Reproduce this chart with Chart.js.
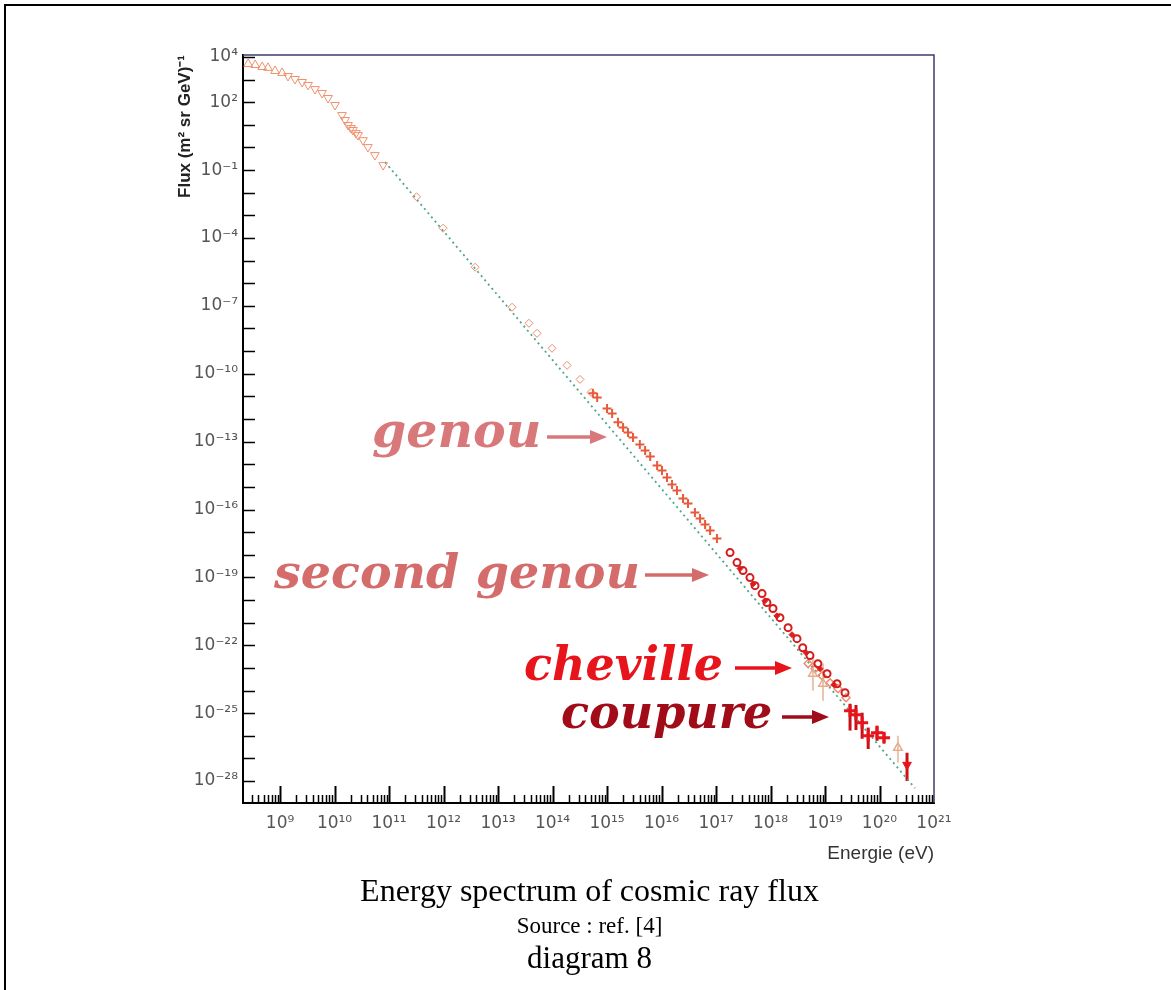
<!DOCTYPE html>
<html>
<head>
<meta charset="utf-8">
<script src="https://cdn.jsdelivr.net/npm/chart.js@4.4.1/dist/chart.umd.min.js"></script>
<style>
  body { margin: 0; background: #fff; width: 1171px; height: 990px; position: relative; overflow: hidden; }
  #frame { position: absolute; left: 4px; top: 4px; width: 1180px; height: 1000px; border-top: 2px solid #000; border-left: 2px solid #000; }
  #spectrum { position: absolute; left: 0; top: 0; }
  .note { position: absolute; font-style: italic; font-weight: bold; font-family: "DejaVu Serif", serif; line-height: 1; white-space: nowrap; }
  .cap { position: absolute; left: 8px; width: 1163px; text-align: center; color: #000; font-family: "Liberation Serif", serif; line-height: 1; }
  #arrows { position: absolute; left: 0; top: 0; }
</style>
</head>
<body>
<div id="frame"></div>
<canvas id="spectrum" width="1171" height="880"></canvas>

<div class="note" style="left:372px; top:406px; font-size:49px; color:#d9787a;">genou</div>
<div class="note" style="left:274px; top:548px; font-size:47.5px; color:#d46c6c;">second genou</div>
<div class="note" style="left:524px; top:641px; font-size:46px; color:#e8141c;">cheville</div>
<div class="note" style="left:561px; top:689px; font-size:46px; color:#a00c18;">coupure</div>
<svg id="arrows" width="1171" height="880">
  <g stroke-width="3.5">
    <line x1="547" y1="437" x2="592" y2="437" stroke="#d9787a"/>
    <line x1="645" y1="575" x2="694" y2="575" stroke="#d46c6c"/>
    <line x1="735" y1="668" x2="777" y2="668" stroke="#e8141c"/>
    <line x1="782" y1="717" x2="814" y2="717" stroke="#a00c18"/>
  </g>
  <polygon points="590,430 607,437 590,444" fill="#d9787a"/>
  <polygon points="692,568 709,575 692,582" fill="#d46c6c"/>
  <polygon points="775,661 792,668 775,675" fill="#e8141c"/>
  <polygon points="812,710 829,717 812,724" fill="#a00c18"/>
</svg>

<div class="cap" style="top:874px; font-size:32px;">Energy spectrum of cosmic ray flux</div>
<div class="cap" style="top:914px; font-size:23px;">Source : ref. [4]</div>
<div class="cap" style="top:942px; font-size:31px;">diagram 8</div>

<script>
// axes
const xTickValues = [1e9, 1e10, 1e11, 1e12, 1e13, 1e14, 1e15, 1e16, 1e17, 1e18, 1e19, 1e20, 1e21];
const yTickValues = [1e4, 1e2, 1e-1, 1e-4, 1e-7, 1e-10, 1e-13, 1e-16, 1e-19, 1e-22, 1e-25, 1e-28];

// low energy triangles
const triUpE = [2.6e8, 3.5e8, 4.7e8, 6.0e8, 8.1e8, 1.09e9];
const triUpF = [4.9e3, 4.4e3, 3.6e3, 3.3e3, 2.4e3, 1.96e3];
const triDownE = [1.4e9, 1.88e9, 2.54e9, 3.27e9, 4.39e9, 5.9e9, 7.6e9, 1.02e10, 1.37e10, 1.56e10, 1.77e10, 2.0e10, 2.18e10, 2.48e10, 2.7e10, 3.33e10, 4.1e10, 5.5e10, 7.8e10];
const triDownF = [1.44e3, 1.06e3, 7.8e2, 5.8e2, 3.8e2, 2.55e2, 1.53e2, 75, 27, 16.3, 9.8, 7.2, 5.9, 4.3, 3.5, 2.1, 1.04, 0.46, 0.166];

// diamonds up to the knee
const diamondE = [3.2e11, 9.8e11, 3.8e12, 1.81e13, 3.7e13, 5.2e13, 9.8e13, 1.85e14, 3.2e14, 5.1e14];
const diamondF = [6.6e-3, 2.7e-4, 5.1e-6, 8.7e-8, 1.7e-8, 6.1e-9, 1.33e-9, 2.35e-10, 5.6e-11, 1.5e-11];

// crosses through the knee
const crossE = [5.5e14, 6.6e14, 1.0e15, 1.24e15, 1.59e15, 1.97e15, 2.43e15, 3.0e15, 4.0e15, 5.0e15, 6.2e15, 8.3e15, 1.02e16, 1.26e16, 1.56e16, 1.92e16, 2.48e16, 3.06e16, 4.1e16, 5.1e16, 6.3e16, 7.8e16, 1.04e17];
const crossF = [1.36e-11, 9.0e-12, 2.9e-12, 1.77e-12, 7.1e-13, 4.2e-13, 2.55e-13, 1.53e-13, 7.5e-14, 4.1e-14, 2.2e-14, 8.9e-15, 5.3e-15, 2.6e-15, 1.28e-15, 6.9e-16, 3.1e-16, 1.84e-16, 7.4e-17, 4.0e-17, 2.17e-17, 1.18e-17, 5.2e-18];

// open circles above 1e17
const circleE = [1.81e17, 2.43e17, 3.13e17, 4.2e17, 5.2e17, 7.0e17, 8.6e17, 1.11e18, 1.49e18, 2.1e18, 3.06e18, 3.9e18, 5.3e18, 7.4e18, 1.09e19, 1.66e19, 2.33e19];
const circleF = [1.25e-18, 4.5e-19, 2.0e-19, 9.8e-20, 4.3e-20, 1.92e-20, 7.7e-21, 4.2e-21, 1.66e-21, 6.0e-22, 1.96e-22, 7.8e-23, 3.5e-23, 1.53e-23, 5.5e-24, 2.0e-24, 8.0e-25];

// filled red points between the circles
const redFillE = [2.75e17, 4.8e17, 7.9e17, 1.31e18, 2.48e18, 4.5e18, 8.1e18, 1.46e19];
const redFillF = [2.45e-19, 5.2e-20, 9.3e-21, 2.0e-21, 2.95e-22, 4.7e-23, 9.2e-24, 1.82e-24];

// light points near the ankle
const salmonE = [4.9e18, 6.6e18, 8.8e18, 1.24e19, 1.73e19, 2.43e19];
const salmonF = [1.55e-23, 9.2e-24, 4.5e-24, 2.2e-24, 1.2e-24, 4.8e-25];

// tan points with error bars
const tanE = [6.0e18, 9.2e18, 2.18e20];
const tanF = [5.5e-24, 2.0e-24, 2.95e-27];
const tanHigh = [3.5e-23, 1.55e-23, 1.0e-26];
const tanLow = [9.8e-25, 3.5e-25, 6.5e-28];

// red crosses at the cut-off
const cutE = [2.88e19, 3.7e19, 4.8e19, 6.2e19, 9.0e19, 1.21e20];
const cutF = [1.28e-25, 8.5e-26, 3.8e-26, 1.0e-26, 1.36e-26, 8.2e-27];
const cutHigh = [2.6e-25, 2.3e-25, 1.05e-25, 2.3e-26, 2.8e-26, 1.35e-26];
const cutLow = [1.7e-26, 1.8e-26, 7.4e-27, 2.6e-27, 6.0e-27, 4.9e-27];

// last point
const lastE = [3.2e20];
const lastF = [5.2e-28];
const lastHigh = [1.78e-27];
const lastLow = [1.0e-28];

// power law guide line
const fitE = [8.45e10, 4.48e20];
const fitF = [0.226, 4.8e-29];

const pts = (xs, ys) => xs.map((x, i) => ({ x: x, y: ys[i] }));

const supDigits = { "0": "⁰", "1": "¹", "2": "²", "3": "³", "4": "⁴", "5": "⁵", "6": "⁶", "7": "⁷", "8": "⁸", "9": "⁹", "-": "⁻" };
function powLabel(v) {
  const e = String(Math.round(Math.log10(v)));
  return "10" + e.split("").map(c => supDigits[c]).join("");
}

// error bars under the markers
const errBars = {
  id: "errBars",
  beforeDatasetsDraw(chart) {
    const ctx = chart.ctx;
    const xs = chart.scales.x, ys = chart.scales.y;
    chart.data.datasets.forEach(ds => {
      if (!ds.errHigh) return;
      ctx.save();
      ctx.strokeStyle = ds.errColor;
      ctx.lineWidth = ds.errWidth;
      ds.data.forEach((p, i) => {
        const px = xs.getPixelForValue(p.x);
        ctx.beginPath();
        ctx.moveTo(px, ys.getPixelForValue(ds.errHigh[i]));
        ctx.lineTo(px, ys.getPixelForValue(ds.errLow[i]));
        ctx.stroke();
      });
      ctx.restore();
    });
  }
};

// ROOT style frame with inward ticks
const insideTicks = {
  id: "insideTicks",
  afterDraw(chart) {
    const ctx = chart.ctx;
    const a = chart.chartArea;
    const xs = chart.scales.x, ys = chart.scales.y;
    ctx.save();
    ctx.strokeStyle = "#3c3c6e";
    ctx.lineWidth = 1.5;
    ctx.beginPath();
    ctx.moveTo(a.left, a.top);
    ctx.lineTo(a.right, a.top);
    ctx.lineTo(a.right, a.bottom);
    ctx.stroke();

    ctx.strokeStyle = "#000";
    for (let e = 8; e <= 20; e++) {
      for (let k = 1; k <= 9; k++) {
        const v = k * Math.pow(10, e);
        if (v < xs.min || v > xs.max) continue;
        const px = Math.round(xs.getPixelForValue(v)) + 0.5;
        ctx.lineWidth = k === 1 ? 2 : 1.5;
        ctx.beginPath();
        ctx.moveTo(px, a.bottom);
        ctx.lineTo(px, a.bottom - (k === 1 ? 17 : 8));
        ctx.stroke();
      }
    }
    ctx.lineWidth = 1.5;
    for (let e = -28; e <= 4; e++) {
      const py = Math.round(ys.getPixelForValue(Math.pow(10, e))) + 0.5;
      ctx.beginPath();
      ctx.moveTo(a.left, py);
      ctx.lineTo(a.left + 12, py);
      ctx.stroke();
    }
    ctx.restore();
  }
};

const tickFont = { family: "DejaVu Sans", size: 17 };

new Chart(document.getElementById("spectrum"), {
  type: "scatter",
  data: {
    datasets: [
      { data: pts(lastE, lastF), pointStyle: "triangle", rotation: 180, pointRadius: 5,
        backgroundColor: "#e8141c", borderColor: "#e8141c", borderWidth: 1,
        errHigh: lastHigh, errLow: lastLow, errColor: "#d01018", errWidth: 3 },
      { data: pts(cutE, cutF), pointStyle: "cross", pointRadius: 6, borderColor: "#e8141c", borderWidth: 3,
        errHigh: cutHigh, errLow: cutLow, errColor: "#c8101a", errWidth: 3 },
      { data: pts(tanE, tanF), pointStyle: "triangle", pointRadius: 5, backgroundColor: "rgba(0,0,0,0)",
        borderColor: "#e6ad90", borderWidth: 1.5,
        errHigh: tanHigh, errLow: tanLow, errColor: "#ebc4ae", errWidth: 2 },
      { data: pts(circleE, circleF), pointStyle: "circle", pointRadius: 3.5, backgroundColor: "rgba(0,0,0,0)",
        borderColor: "#d41c1c", borderWidth: 2 },
      { data: pts(redFillE, redFillF), pointStyle: "rectRot", pointRadius: 3, backgroundColor: "#e02020",
        borderColor: "#e02020", borderWidth: 1 },
      { data: pts(salmonE, salmonF), pointStyle: "rectRot", pointRadius: 4, backgroundColor: "rgba(0,0,0,0)",
        borderColor: "#ef8a70", borderWidth: 1.5 },
      { data: pts(crossE, crossF), pointStyle: "cross", pointRadius: 4.5, borderColor: "#e85a3a", borderWidth: 2 },
      { data: pts(diamondE, diamondF), pointStyle: "rectRot", pointRadius: 4, backgroundColor: "rgba(0,0,0,0)",
        borderColor: "#ec8c6c", borderWidth: 1 },
      { data: pts(triDownE, triDownF), pointStyle: "triangle", rotation: 180, pointRadius: 5,
        backgroundColor: "rgba(0,0,0,0)", borderColor: "#f0906c", borderWidth: 1 },
      { data: pts(triUpE, triUpF), pointStyle: "triangle", pointRadius: 5,
        backgroundColor: "rgba(0,0,0,0)", borderColor: "#f0906c", borderWidth: 1 },
      { data: pts(fitE, fitF), showLine: true, pointRadius: 0, borderColor: "#4fa68c",
        borderWidth: 1.8, borderDash: [2, 3.5] }
    ]
  },
  options: {
    responsive: false,
    animation: false,
    layout: { padding: { left: 172, top: 55, right: 237, bottom: 11 } },
    plugins: { legend: { display: false }, tooltip: { enabled: false } },
    scales: {
      x: {
        type: "logarithmic", position: "bottom", min: 2.09e8, max: 1e21,
        grid: { display: false, drawTicks: false },
        border: { display: true, color: "#000", width: 2 },
        afterBuildTicks: s => { s.ticks = xTickValues.map(v => ({ value: v })); },
        afterFit: s => { s.height = 66; },
        ticks: { autoSkip: false, maxRotation: 0, padding: 10, color: "#555", font: tickFont, callback: v => powLabel(v) },
        title: { display: true, text: "Energie (eV)", align: "end", color: "#333",
                 font: { family: "Liberation Sans", size: 19 }, padding: { top: 4, bottom: 4 } }
      },
      y: {
        type: "logarithmic", position: "left", min: 1.07e-29, max: 1.22e4,
        grid: { display: false, drawTicks: false },
        border: { display: true, color: "#000", width: 2 },
        afterBuildTicks: s => { s.ticks = yTickValues.map(v => ({ value: v })); },
        afterFit: s => { s.width = 71; },
        ticks: { autoSkip: false, padding: 5, color: "#555", font: tickFont, callback: v => powLabel(v) },
        title: { display: true, text: "Flux (m² sr GeV)⁻¹", align: "end", color: "#222",
                 font: { family: "Liberation Sans", size: 17, weight: "bold" }, padding: { top: 3, bottom: 3 } }
      }
    }
  },
  plugins: [errBars, insideTicks]
});
</script>
</body>
</html>
